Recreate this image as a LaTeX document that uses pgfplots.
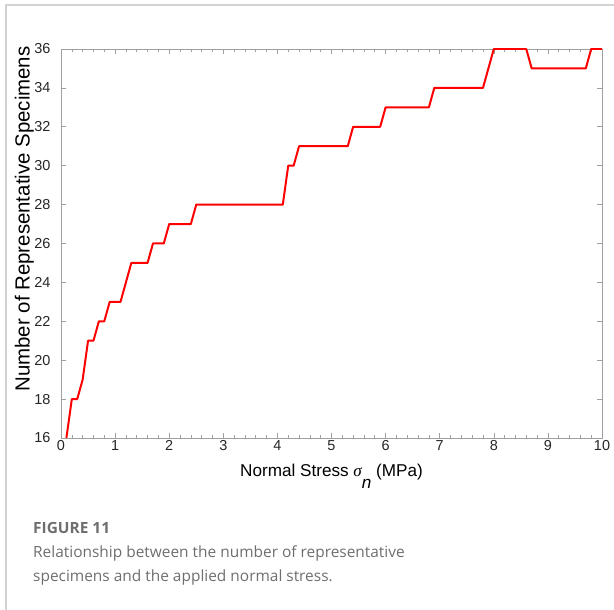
\documentclass[border=0pt]{standalone}
\usepackage{pgfplots}
\pgfplotsset{compat=1.18}
\usepackage{pgfplotstable}
\usepackage{fontspec}
\setmainfont{Liberation Sans}
\newfontfamily\capfont{Open Sans}
\newfontfamily\sigfont{Liberation Serif}

\definecolor{capgray}{HTML}{6E6E6E}
\definecolor{framegray}{HTML}{D2D2D2}
\definecolor{axgray}{HTML}{A0A0A0}
\definecolor{ticktext}{HTML}{262626}

% number of representative specimens vs. applied normal stress (MPa)
\pgfplotstableread{
s n
0.1 16
0.2 18
0.3 18
0.4 19
0.5 21
0.6 21
0.7 22
0.8 22
0.9 23
1.0 23
1.1 23
1.2 24
1.3 25
1.4 25
1.5 25
1.6 25
1.7 26
1.8 26
1.9 26
2.0 27
2.1 27
2.2 27
2.3 27
2.4 27
2.5 28
2.6 28
2.7 28
2.8 28
2.9 28
3.0 28
3.1 28
3.2 28
3.3 28
3.4 28
3.5 28
3.6 28
3.7 28
3.8 28
3.9 28
4.0 28
4.1 28
4.2 30
4.3 30
4.4 31
4.5 31
4.6 31
4.7 31
4.8 31
4.9 31
5.0 31
5.1 31
5.2 31
5.3 31
5.4 32
5.5 32
5.6 32
5.7 32
5.8 32
5.9 32
6.0 33
6.1 33
6.2 33
6.3 33
6.4 33
6.5 33
6.6 33
6.7 33
6.8 33
6.9 34
7.0 34
7.1 34
7.2 34
7.3 34
7.4 34
7.5 34
7.6 34
7.7 34
7.8 34
7.9 35
8.0 36
8.1 36
8.2 36
8.3 36
8.4 36
8.5 36
8.6 36
8.7 35
8.8 35
8.9 35
9.0 35
9.1 35
9.2 35
9.3 35
9.4 35
9.5 35
9.6 35
9.7 35
9.8 36
9.9 36
10.0 36
}\specimens

\begin{document}
\begin{tikzpicture}[x=1bp,y=1bp]
\useasboundingbox (0,0) rectangle (614,610);
% page frame
\draw[framegray, line width=1.3bp] (6,0) -- (6,605) -- (614,605);

\begin{axis}[
  at={(61bp,172bp)}, anchor=south west,
  scale only axis, width=541bp, height=389bp,
  xmin=0, xmax=10, ymin=16, ymax=36,
  xtick={0,1,...,10}, ytick={16,18,...,36},
  minor x tick num=4,
  axis line style={axgray, line width=0.6bp},
  every tick/.style={axgray, line width=0.6bp},
  major tick length=5bp, minor tick length=3bp,
  tick label style={font=\fontsize{14.5}{17}\selectfont, text=ticktext},
  /pgf/number format/assume math mode=true,
  xticklabel style={yshift=1bp},
  yticklabel style={xshift=-7bp},
  xlabel={Normal Stress {\sigfont\itshape σ}\raisebox{-12bp}{\itshape n} (MPa)},
  ylabel={Number of Representative Specimens},
  xlabel style={font=\fontsize{17.2}{20}\selectfont, text=black,
    at={(axis description cs:0.5,0)}, anchor=base, yshift=-39bp},
  ylabel style={font=\fontsize{20.5}{24}\selectfont, text=black,
    at={(axis description cs:-0.058,0.563)}, anchor=base},
]
\addplot[red, line width=2bp, line join=round] table[x=s, y=n] {\specimens};
\end{axis}

\node[anchor=base west, text=capgray, font=\capfont\bfseries\fontsize{15.5}{18}\selectfont, inner sep=0pt] at (33,76) {FIGURE 11};
\node[anchor=base west, text=capgray, font=\capfont\fontsize{15.5}{18}\selectfont, inner sep=0pt] at (33,52) {Relationship between the number of representative};
\node[anchor=base west, text=capgray, font=\capfont\fontsize{15.5}{18}\selectfont, inner sep=0pt] at (33,28) {specimens and the applied normal stress.};
\end{tikzpicture}
\end{document}
